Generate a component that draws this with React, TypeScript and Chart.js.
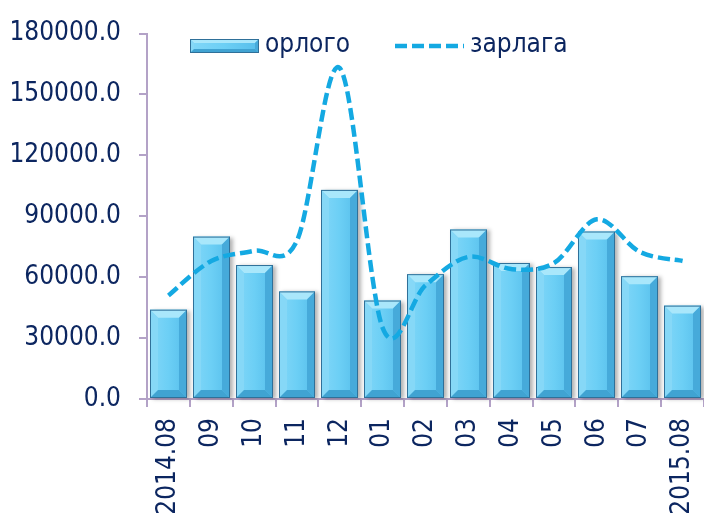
import React, { useEffect, useRef } from "react";
import { Chart, registerables } from "chart.js";

Chart.register(...registerables);

const categories = ["2014.08", "09", "10", "11", "12", "01", "02", "03", "04", "05", "06", "07", "2015.08"];
const orlogo = [44000, 80000, 66000, 53000, 103000, 48500, 61500, 83500, 67000, 65000, 82500, 60500, 46000];
const zarlaga = [51000, 68000, 73000, 78000, 163000, 35000, 56000, 70000, 64000, 67000, 88500, 72500, 68000];
const seriesNames = ["орлого", "зарлага"];
const yMin = 0;
const yMax = 180000;
const yStep = 30000;

const FONT = '"DejaVu Sans Condensed", "DejaVu Sans", sans-serif';
const TEXT = "#0C2660";
const AXIS = "#B3A2C7";
const LINE = "#14A9E2";

function bevelBar(ctx: CanvasRenderingContext2D, l: number, t: number, r: number, b: number, bev: number, shadow: boolean) {
  const w = r - l;
  const h = b - t;
  const bv = Math.min(bev, w / 2, h / 2);
  ctx.save();
  if (shadow) {
    ctx.shadowColor = "rgba(0,0,0,0.30)";
    ctx.shadowBlur = 4;
    ctx.shadowOffsetX = 3;
    ctx.shadowOffsetY = 1;
  }
  const g = ctx.createLinearGradient(l, 0, r, 0);
  g.addColorStop(0, "#82D7F8");
  g.addColorStop(0.5, "#6CCFF5");
  g.addColorStop(1, "#56BEEB");
  ctx.fillStyle = g;
  ctx.fillRect(l, t, w, h);
  ctx.restore();
  ctx.save();
  const poly = (pts: number[][], color: string) => {
    ctx.beginPath();
    ctx.moveTo(pts[0][0], pts[0][1]);
    for (let i = 1; i < pts.length; i++) ctx.lineTo(pts[i][0], pts[i][1]);
    ctx.closePath();
    ctx.fillStyle = color;
    ctx.fill();
  };
  poly([[l, t], [r, t], [r - bv, t + bv], [l + bv, t + bv]], "#A9E7FB");
  poly([[l, t], [l + bv, t + bv], [l + bv, b - bv], [l, b]], "#86D8F7");
  poly([[r, t], [r - bv, t + bv], [r - bv, b - bv], [r, b]], "#46AADA");
  poly([[l, b], [l + bv, b - bv], [r - bv, b - bv], [r, b]], "#40A3D2");
  ctx.strokeStyle = "#2F7099";
  ctx.lineWidth = 1;
  ctx.strokeRect(l + 0.5, t + 0.5, w - 1, h - 1);
  ctx.restore();
}

const bevelPlugin = {
  id: "bevelBars",
  afterDatasetDraw(chart: any, args: any) {
    if (args.meta.type !== "bar") return;
    const ctx = chart.ctx as CanvasRenderingContext2D;
    ctx.save();
    for (const el of args.meta.data) {
      const l = el.x - el.width / 2;
      const r = el.x + el.width / 2;
      bevelBar(ctx, Math.round(l), el.y, Math.round(r), el.base, 8, true);
    }
    ctx.restore();
  },
};

// Excel-like (Catmull-Rom) smoothing of the line through the library's point positions
const smoothPlugin = {
  id: "catmullRom",
  beforeDatasetDraw(chart: any, args: any) {
    const meta = args.meta;
    if (meta.type !== "line") return;
    const line = meta.dataset;
    if (line && line.updateControlPoints) line.updateControlPoints(chart.chartArea, "x");
    const pts = meta.data;
    const n = pts.length;
    for (let i = 0; i < n; i++) {
      const p = pts[i];
      const prev = pts[Math.max(0, i - 1)];
      const next = pts[Math.min(n - 1, i + 1)];
      const dx = (next.x - prev.x) / 6;
      const dy = (next.y - prev.y) / 6;
      p.cp1x = p.x - dx;
      p.cp1y = p.y - dy;
      p.cp2x = p.x + dx;
      p.cp2y = p.y + dy;
    }
    if (line) {
      line._pointsUpdated = true;
      line._path = undefined;
    }
  },
};

const legendPlugin = {
  id: "customLegend",
  afterDraw(chart: any) {
    const ctx = chart.ctx as CanvasRenderingContext2D;
    ctx.save();
    bevelBar(ctx, 190, 39, 259, 53, 4, false);
    ctx.font = `26px ${FONT}`;
    ctx.fillStyle = TEXT;
    ctx.textBaseline = "middle";
    ctx.textAlign = "left";
    ctx.fillText(seriesNames[0], 265, 45);
    ctx.strokeStyle = LINE;
    ctx.lineWidth = 4.5;
    ctx.setLineDash([12, 5]);
    ctx.beginPath();
    ctx.moveTo(395, 46);
    ctx.lineTo(464, 46);
    ctx.stroke();
    ctx.setLineDash([]);
    ctx.fillText(seriesNames[1], 470, 45);
    ctx.restore();
  },
};

export default function App() {
  const ref = useRef<HTMLCanvasElement>(null);
  useEffect(() => {
    if (!ref.current) return;
    const chart = new Chart(ref.current, {
      type: "bar",
      data: {
        labels: categories,
        datasets: [
          {
            type: "bar",
            label: seriesNames[0],
            data: orlogo,
            backgroundColor: "rgba(0,0,0,0)",
            borderWidth: 0,
            barPercentage: 0.86,
            categoryPercentage: 1,
            order: 2,
          } as any,
          {
            type: "line",
            label: seriesNames[1],
            data: zarlaga,
            borderColor: LINE,
            borderWidth: 4.5,
            borderDash: [12, 5],
            pointRadius: 0,
            tension: 0.4,
            fill: false,
            order: 1,
          } as any,
        ],
      },
      options: {
        responsive: false,
        animation: false,
        devicePixelRatio: 1,
        layout: { padding: { top: 25, right: 0, left: 0, bottom: 0 } },
        plugins: {
          legend: { display: false },
          tooltip: { enabled: false },
        },
        scales: {
          x: {
            offset: true,
            grid: {
              display: true,
              drawOnChartArea: false,
              drawTicks: true,
              tickLength: 8,
              color: AXIS,
              lineWidth: 2,
              offset: true,
            },
            border: { display: true, color: AXIS, width: 2 },
            ticks: {
              color: TEXT,
              font: { family: FONT, size: 26 },
              minRotation: 90,
              maxRotation: 90,
              padding: 11,
              autoSkip: false,
            },
            afterFit: (s: any) => {
              s.height = 114;
              s.paddingRight = 0;
              s.paddingLeft = 0;
            },
          },
          y: {
            min: yMin,
            max: yMax,
            grid: {
              display: true,
              drawOnChartArea: false,
              drawTicks: true,
              tickLength: 8,
              color: AXIS,
              lineWidth: 2,
            },
            border: { display: true, color: AXIS, width: 2 },
            ticks: {
              stepSize: yStep,
              color: TEXT,
              font: { family: FONT, size: 26 },
              padding: 18,
              callback: (v: any) => Number(v).toFixed(1),
            },
            afterFit: (s: any) => {
              s.width = 147;
            },
          },
        },
      } as any,
      plugins: [bevelPlugin, smoothPlugin, legendPlugin],
    });
    return () => chart.destroy();
  }, []);
  return (
    <div style={{ position: "fixed", left: 0, top: 0, width: 704, height: 513, background: "#fff" }}>
      <canvas ref={ref} width={704} height={513} style={{ display: "block", width: 704, height: 513 }} />
    </div>
  );
}
